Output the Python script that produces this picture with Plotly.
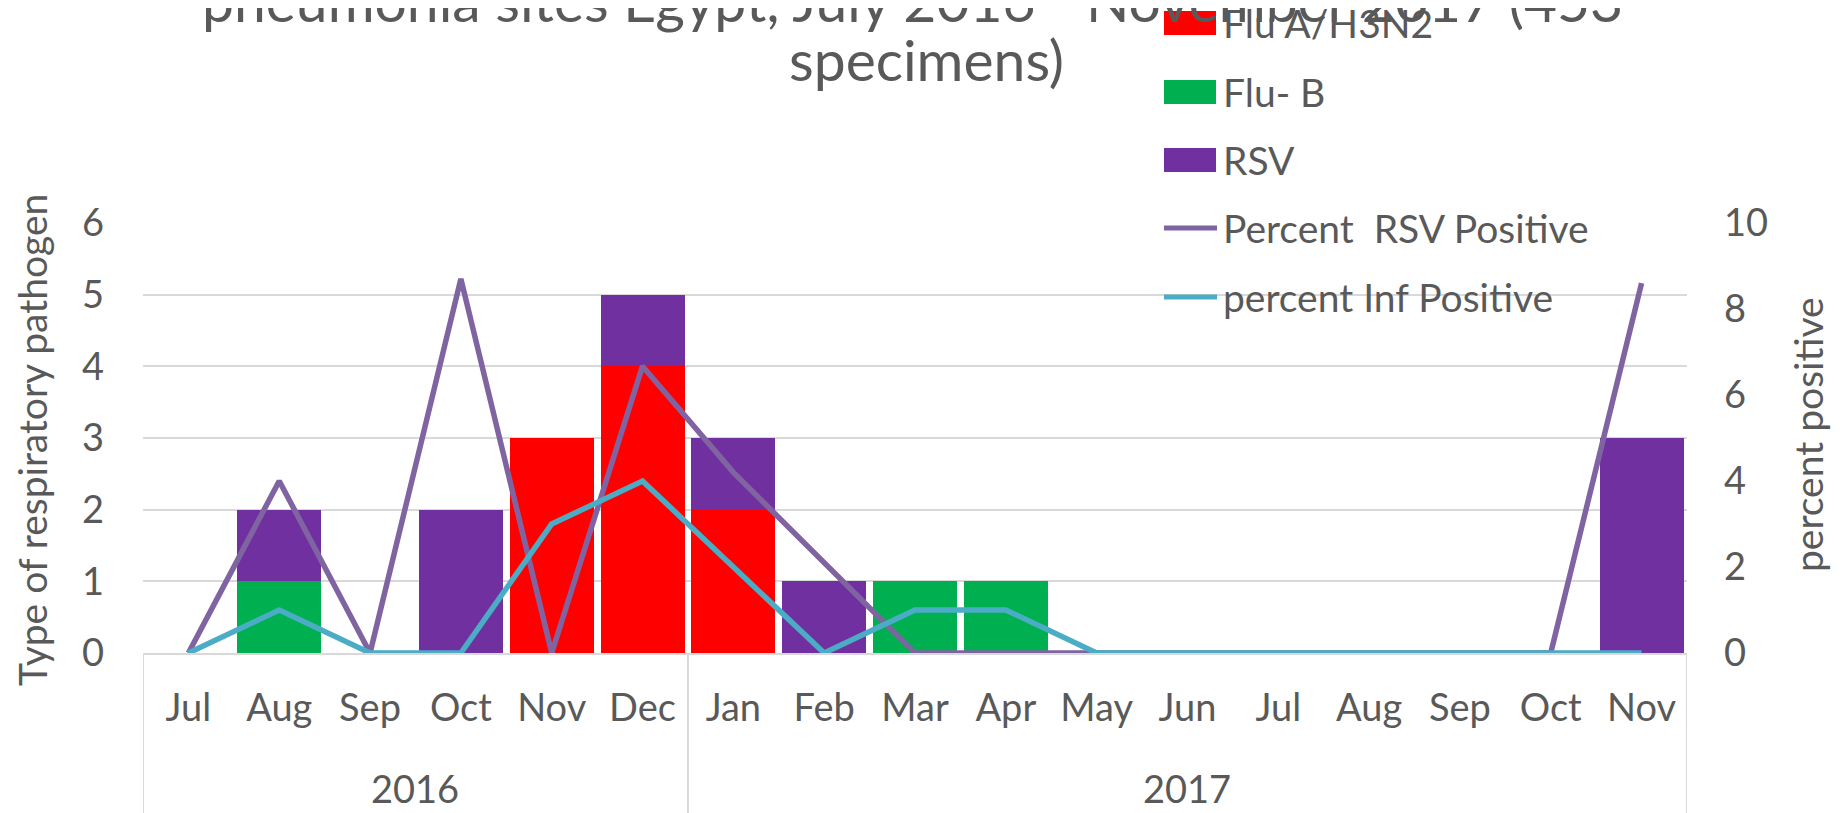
import plotly.graph_objects as go

# ---------------- data ----------------
months = ["Jul", "Aug", "Sep", "Oct", "Nov", "Dec", "Jan", "Feb", "Mar", "Apr",
          "May", "Jun", "Jul", "Aug", "Sep", "Oct", "Nov"]
years = ["2016"] * 6 + ["2017"] * 11
flu_a_h3n2 = [0, 0, 0, 0, 3, 4, 2, 0, 0, 0, 0, 0, 0, 0, 0, 0, 0]
flu_b = [0, 1, 0, 0, 0, 0, 0, 0, 1, 1, 0, 0, 0, 0, 0, 0, 0]
rsv = [0, 1, 0, 2, 0, 1, 1, 1, 0, 0, 0, 0, 0, 0, 0, 0, 3]
pct_rsv_pos = [0, 4.0, 0, 8.7, 0, 6.67, 4.2, 2.1, 0, 0, 0, 0, 0, 0, 0, 0, 8.6]
pct_inf_pos = [0, 1.0, 0, 0, 3.0, 4.0, 2.0, 0, 1.0, 1.0, 0, 0, 0, 0, 0, 0, 0]
year_labels = ["2016", "2017"]

title_line1 = "pneumonia sites Egypt, July 2016 - November 2017 (453"
title_line2 = "specimens)"

categories = [f"{m} {y}" for m, y in zip(months, years)]

# ---------------- styles ----------------
FONT = "Lato"
TXT = "#595959"
GRID = "#D9D9D9"
C_FLUA = "#FF0000"
C_FLUB = "#00B050"
C_RSV = "#7030A0"
C_LRSV = "#8064A2"
C_LINF = "#4BACC6"

OFF = 8                       # default body margin of the page
PAGE_W, PAGE_H = 1843, 813
W, H = PAGE_W - OFF, PAGE_H - OFF
PL, PR, PT, PB = 143, 1687, 223, 653   # plot area in page pixels

LBL = 38


def px_x(px):
    return (px - PL) / (PR - PL)


def px_y(py):
    return (PB - py) / (PB - PT)


fig = go.Figure()
fig.add_bar(x=categories, y=flu_a_h3n2, name="Flu A/H3N2", marker_color=C_FLUA,
            marker_line_width=0)
fig.add_bar(x=categories, y=flu_b, name="Flu- B", marker_color=C_FLUB,
            marker_line_width=0)
fig.add_bar(x=categories, y=rsv, name="RSV", marker_color=C_RSV,
            marker_line_width=0)
fig.add_scatter(x=categories, y=pct_rsv_pos, name="Percent  RSV Positive",
                mode="lines", line=dict(color=C_LRSV, width=5.5), yaxis="y2")
fig.add_scatter(x=categories, y=pct_inf_pos, name="percent Inf Positive",
                mode="lines", line=dict(color=C_LINF, width=5.5), yaxis="y2")

fig.update_layout(
    width=W, height=H,
    margin=dict(l=PL - OFF, r=W - (PR - OFF), t=PT - OFF, b=H - (PB - OFF), pad=0),
    paper_bgcolor="white", plot_bgcolor="white",
    barmode="stack", bargap=0.075,
    showlegend=False,
    font=dict(family=FONT, color=TXT, size=LBL),
    xaxis=dict(
        type="category", tickvals=categories, ticktext=months,
        range=[-0.5, len(categories) - 0.5],
        showgrid=False, showline=True, linecolor=GRID, linewidth=2,
        ticks="", ticklabelstandoff=20,
        tickfont=dict(size=LBL, color=TXT, family=FONT),
    ),
    yaxis=dict(
        range=[0, 6], dtick=1, showgrid=True, gridcolor=GRID, gridwidth=2,
        zeroline=False, showline=False, ticks="", ticklabelstandoff=38,
        tickfont=dict(size=LBL, color=TXT, family=FONT),
    ),
    yaxis2=dict(
        range=[0, 10], dtick=2, overlaying="y", side="right", showgrid=False,
        zeroline=False, showline=False, ticks="", ticklabelstandoff=36,
        tickfont=dict(size=LBL, color=TXT, family=FONT),
    ),
)

shapes = []
annotations = []

# category group dividers below the axis
for xd in [-0.5, 5.5, len(categories) - 0.5]:
    shapes.append(dict(type="line", xref="x", yref="paper", x0=xd, x1=xd,
                       y0=0, y1=px_y(PAGE_H + 5), line=dict(color=GRID, width=2)))

# year labels
annotations.append(dict(x=2.5, y=px_y(788), xref="x", yref="paper",
                        text=year_labels[0], showarrow=False,
                        font=dict(size=LBL, color=TXT, family=FONT),
                        xanchor="center", yanchor="middle"))
annotations.append(dict(x=11, y=px_y(788), xref="x", yref="paper",
                        text=year_labels[1], showarrow=False,
                        font=dict(size=LBL, color=TXT, family=FONT),
                        xanchor="center", yanchor="middle"))

# axis titles
annotations.append(dict(x=px_x(32), y=px_y(440), xref="paper", yref="paper",
                        text="Type of respiratory pathogen", textangle=-90,
                        showarrow=False, font=dict(size=39, color=TXT, family=FONT),
                        xanchor="center", yanchor="middle"))
annotations.append(dict(x=px_x(1808), y=px_y(435), xref="paper", yref="paper",
                        text="percent positive", textangle=-90,
                        showarrow=False, font=dict(size=39, color=TXT, family=FONT),
                        xanchor="center", yanchor="middle"))

# title (partly clipped at top)
annotations.append(dict(x=px_x(912), y=px_y(0), xref="paper", yref="paper",
                        text=title_line1, showarrow=False,
                        font=dict(size=57, color=TXT, family=FONT),
                        xanchor="center", yanchor="middle"))
annotations.append(dict(x=px_x(926), y=px_y(59), xref="paper", yref="paper",
                        text=title_line2, showarrow=False,
                        font=dict(size=57, color=TXT, family=FONT),
                        xanchor="center", yanchor="middle"))

# manual legend
legend_items = [
    ("bar", C_FLUA, "Flu A/H3N2", 23),
    ("bar", C_FLUB, "Flu- B", 92),
    ("bar", C_RSV, "RSV", 160),
    ("line", C_LRSV, "Percent  RSV Positive", 228),
    ("line", C_LINF, "percent Inf Positive", 297),
]
for kind, col, label, cy in legend_items:
    if kind == "bar":
        shapes.append(dict(type="rect", xref="paper", yref="paper",
                           x0=px_x(1164), x1=px_x(1216),
                           y0=px_y(cy + 12), y1=px_y(cy - 12),
                           fillcolor=col, line=dict(width=0)))
    else:
        shapes.append(dict(type="line", xref="paper", yref="paper",
                           x0=px_x(1164), x1=px_x(1217),
                           y0=px_y(cy), y1=px_y(cy),
                           line=dict(color=col, width=5)))
    annotations.append(dict(x=px_x(1221), y=px_y(cy), xref="paper", yref="paper",
                            text=label, showarrow=False,
                            font=dict(size=39, color=TXT, family=FONT),
                            xanchor="left", yanchor="middle"))

fig.update_layout(shapes=shapes, annotations=annotations)
fig.write_html("out.html")
